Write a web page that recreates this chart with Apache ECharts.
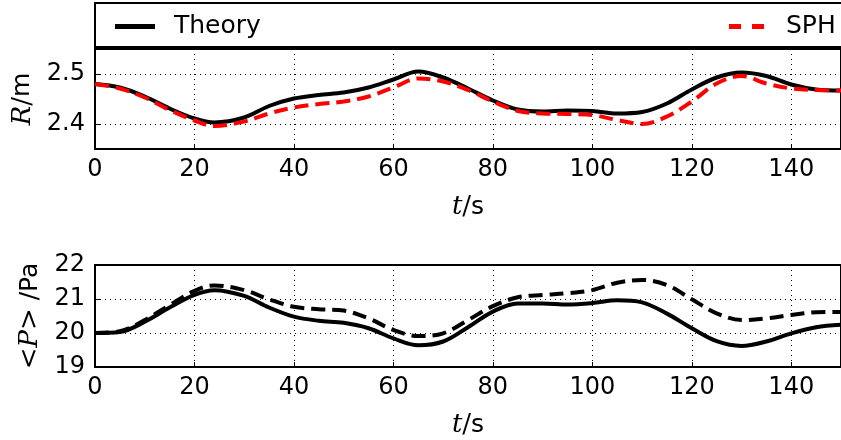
<!DOCTYPE html>
<html><head><meta charset="utf-8">
<script src="https://cdn.jsdelivr.net/npm/echarts@6/dist/echarts.min.js"></script>
<style>html,body{margin:0;padding:0;background:#fff}#c{width:841px;height:440px}</style>
</head><body><div id="c"></div>
<script>
const t = [0,5,10,15,20,24,30,35,40,45,50,55,60,65,70,75,80,85,90,95,100,105,110,115,120,125,130,135,140,145,150];
const rTheory = [2.480,2.473,2.455,2.431,2.411,2.403,2.413,2.436,2.451,2.458,2.463,2.473,2.489,2.505,2.493,2.471,2.447,2.429,2.425,2.427,2.426,2.421,2.424,2.441,2.469,2.493,2.503,2.496,2.479,2.469,2.467];
const rSPH    = [2.480,2.471,2.453,2.428,2.407,2.396,2.405,2.421,2.433,2.440,2.445,2.455,2.473,2.491,2.485,2.468,2.445,2.426,2.421,2.420,2.418,2.408,2.400,2.415,2.445,2.481,2.496,2.481,2.471,2.468,2.467];
const pTheory = [20.00,20.03,20.33,20.75,21.12,21.26,21.09,20.75,20.48,20.36,20.30,20.14,19.84,19.64,19.75,20.17,20.63,20.87,20.87,20.84,20.88,20.96,20.90,20.57,20.14,19.76,19.62,19.75,19.99,20.17,20.24];
const pSPH    = [20.00,20.05,20.38,20.82,21.24,21.40,21.26,20.99,20.77,20.70,20.66,20.43,20.09,19.91,19.99,20.38,20.79,21.05,21.12,21.17,21.26,21.48,21.56,21.41,20.99,20.58,20.38,20.43,20.53,20.61,20.62];
const xTicks = [0,20,40,60,80,100,120,140];
const rTicks = [2.4,2.5];

const zip = (a,b)=>a.map((v,i)=>[v,b[i]]);
const F = 'DejaVu Sans';
const NS = 26;
const rich = {
  i:{fontFamily:'DejaVu Serif',fontStyle:'italic',fontSize:NS,color:'#000'},
  m:{fontFamily:'DejaVu Serif',fontSize:NS,color:'#000'},
  s:{fontFamily:F,fontSize:NS-1,color:'#000'}
};
const grid = [
  {left:95, top:49, width:750, height:100, show:true, borderColor:'#000', borderWidth:2, backgroundColor:'transparent'},
  {left:95, top:265, width:750, height:102, show:true, borderColor:'#000', borderWidth:2, backgroundColor:'transparent'}
];
function xAx(g){
  return {type:'value', gridIndex:g, min:0, max:150, interval:20,
    name:'{i|t}{m|/}{s|s}', nameLocation:'middle', nameGap:45, nameTextStyle:{rich},
    axisLine:{show:true,lineStyle:{color:'#000',width:2}},
    axisTick:{inside:true,length:5,lineStyle:{color:'#000',width:1}},
    axisLabel:{showMaxLabel:false, fontFamily:F, fontSize:24, color:'#000', margin:9},
    splitLine:{show:true,lineStyle:{color:'#000',width:1,type:[1,4]}}};
}
const option = {
  animation:false,
  backgroundColor:'#fff',
  graphic:[{type:'rect', shape:{x:95,y:3,width:760,height:44}, style:{fill:'none',stroke:'#000',lineWidth:2}, z:10}],
  legend:[
    {data:[{name:'Theory', icon:'path://M0,0H40V5H0Z'}], left:110, top:9, itemWidth:40, itemHeight:5,
      textStyle:{fontFamily:F,fontSize:25,color:'#000',padding:[0,0,0,14]}},
    {data:[{name:'SPH', icon:'path://M0,0H12V5H0ZM23,0H35V5H23Z'}], left:724, top:9, itemWidth:35, itemHeight:5,
      textStyle:{fontFamily:F,fontSize:25,color:'#000',padding:[0,0,0,17]}}
  ],
  grid,
  xAxis:[xAx(0), xAx(1)],
  yAxis:[
    {type:'value', gridIndex:0, min:2.35, max:2.55,
      name:'{i|R}{m|/}{s|m}', nameLocation:'middle', nameGap:58, nameTextStyle:{rich},
      axisLine:{show:true,lineStyle:{color:'#000',width:2}},
      axisTick:{inside:true,length:5,customValues:rTicks,lineStyle:{color:'#000',width:1}},
      axisLabel:{customValues:rTicks, fontFamily:F, fontSize:24, color:'#000', margin:10, formatter:v=>v.toFixed(1)},
      splitLine:{show:true,lineStyle:{color:'#000',width:1,type:[1,4]}}},
    {type:'value', gridIndex:1, min:19, max:22, interval:1,
      name:'{m|<}{i|P}{m|>}{s| /Pa}', nameLocation:'middle', nameGap:50, nameTextStyle:{rich},
      axisLine:{show:true,lineStyle:{color:'#000',width:2}},
      axisTick:{inside:true,length:5,lineStyle:{color:'#000',width:1}},
      axisLabel:{fontFamily:F, fontSize:24, color:'#000', margin:10},
      splitLine:{show:true,lineStyle:{color:'#000',width:1,type:[1,4]}}}
  ],
  series:[
    {name:'Theory', type:'line', xAxisIndex:0, yAxisIndex:0, data:zip(t,rTheory), smooth:0.35, symbol:'none', lineStyle:{color:'#000',width:4}, itemStyle:{color:'#000'}, z:3},
    {name:'SPH', type:'line', xAxisIndex:0, yAxisIndex:0, data:zip(t,rSPH), smooth:0.35, symbol:'none', lineStyle:{color:'#ff0000',width:4,type:[14,7]}, itemStyle:{color:'#ff0000'}, z:4},
    {name:'P Theory', type:'line', xAxisIndex:1, yAxisIndex:1, data:zip(t,pTheory), smooth:0.35, symbol:'none', lineStyle:{color:'#000',width:4}, z:3},
    {name:'P SPH', type:'line', xAxisIndex:1, yAxisIndex:1, data:zip(t,pSPH), smooth:0.35, symbol:'none', lineStyle:{color:'#000',width:4,type:[14,7]}, z:4}
  ]
};
const chart = echarts.init(document.getElementById('c'), null, {renderer:'canvas'});
chart.setOption(option);
</script></body></html>
